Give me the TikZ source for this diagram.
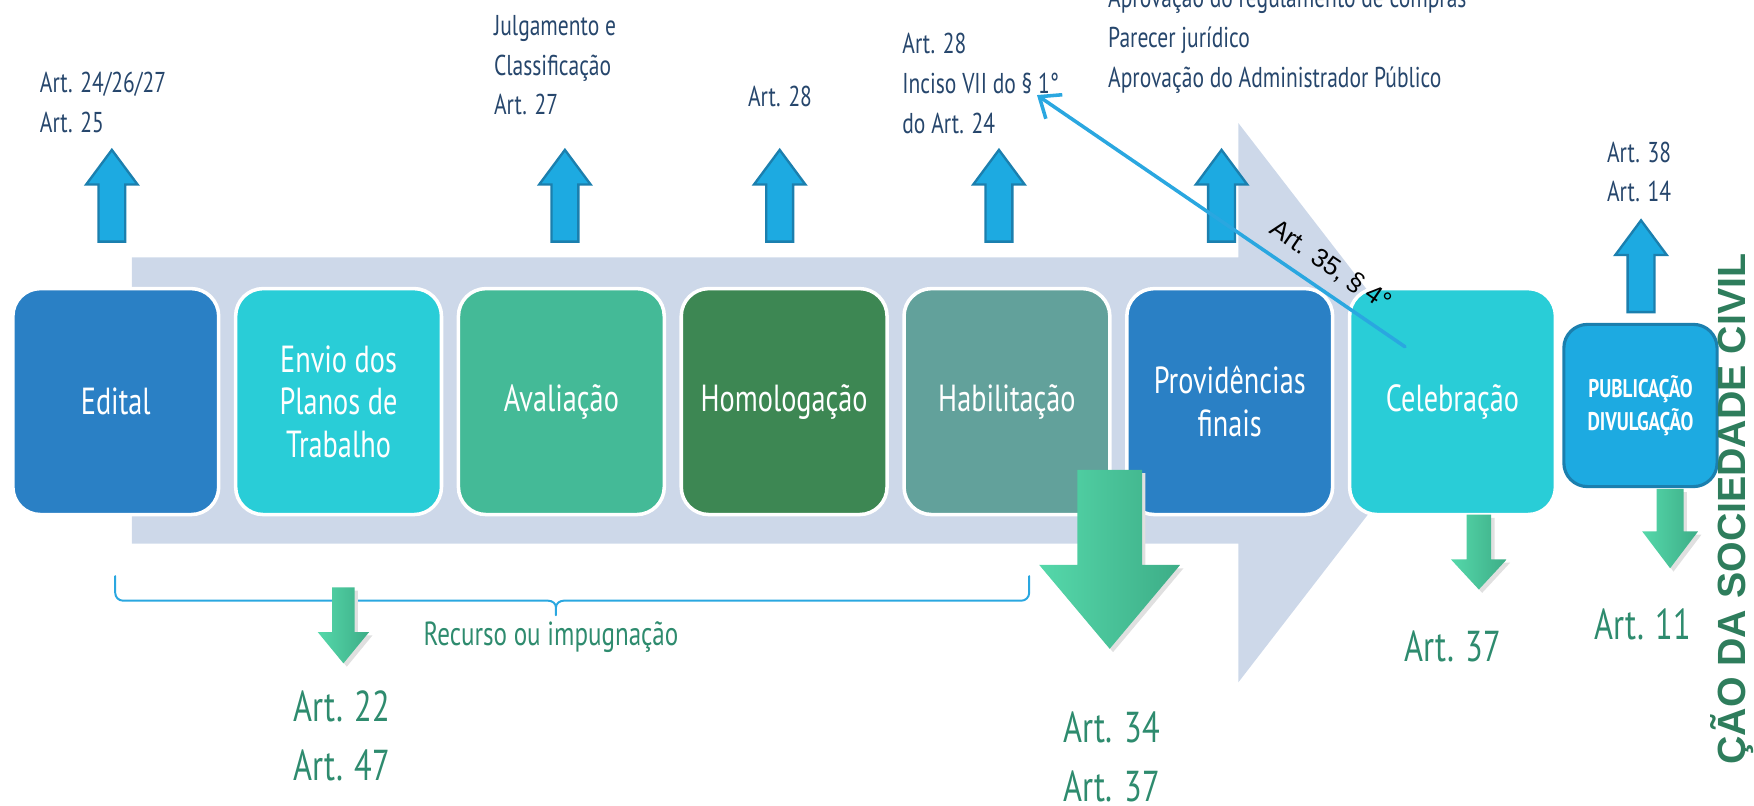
\documentclass[tikz,border=0pt]{standalone}
\usepackage{fontspec}
\setmainfont{PT Sans}[FakeStretch=0.75]
\newfontfamily\labelfont{Liberation Sans}
\usepackage{tikz}
\usetikzlibrary{arrows.meta}
\usetikzlibrary{positioning}

\definecolor{bgarrow}{HTML}{CDD8E9}
\definecolor{stblue}{HTML}{2A80C5}
\definecolor{stcyan}{HTML}{29CDD7}
\definecolor{stmint}{HTML}{44BA97}
\definecolor{stgreen}{HTML}{3D8753}
\definecolor{stteal}{HTML}{62A19B}
\definecolor{pubblue}{HTML}{1DAAE1}
\definecolor{pubedge}{HTML}{1B7FAE}
\definecolor{arttext}{HTML}{26466C}
\definecolor{grtext}{HTML}{2E8B6E}
\definecolor{sidegreen}{HTML}{2E7D5C}
\definecolor{grlight}{HTML}{55D8AA}
\definecolor{grdark}{HTML}{3DAD87}
\definecolor{linkblue}{HTML}{2AA7E0}

\tikzset{
  stage/.style={rounded corners=7pt, draw=white, line width=0.9pt, minimum width=1.84cm, minimum height=2.02cm, inner sep=0pt, text=white, align=center, font=\fontsize{9.6}{10.8}\selectfont},
  upar/.style={fill=pubblue, draw=pubedge, line width=0.6pt, line join=miter},
  downar/.style={left color=grlight, right color=grdark},
  arttop/.style={text=arttext, align=left, inner sep=0pt, font=\fontsize{7.3}{10.1}\selectfont},
  artbot/.style={text=grtext, align=left, inner sep=0pt, font=\fontsize{11}{15}\selectfont},
}

\begin{document}
\begin{tikzpicture}[line cap=round,line join=round,x=1.0cm,y=1.0cm]
% Draw region settings
\useasboundingbox (0,0) rectangle (15.68,-7.20);
\clip (0,0) rectangle (15.68,-7.20);
% Background arrow
\fill[bgarrow] (1.18,-2.30) -- (11.07,-2.30) -- (11.07,-1.10) -- (13.00,-3.60) -- (11.07,-6.10) -- (11.07,-4.86) -- (1.18,-4.86) -- cycle;
% Brace under the first stages
\draw[linkblue, line width=0.5pt] (1.03,-5.15) -- (1.03,-5.30) to[out=-90,in=180] (1.10,-5.37) -- (4.90,-5.37) to[out=0,in=90] (4.97,-5.43) -- (4.97,-5.50)
  (4.97,-5.43) to[out=90,in=180] (5.04,-5.37) -- (9.13,-5.37) to[out=0,in=-90] (9.20,-5.30) -- (9.20,-5.15);
% Stages
\node[stage, fill=stblue] (edital) at (1.035,-3.59) {Edital};
\node[stage, fill=stcyan, right=0.12cm of edital] (envio) {Envio dos\\Planos de\\Trabalho};
\node[stage, fill=stmint, right=0.12cm of envio] (avaliacao) {Avaliação};
\node[stage, fill=stgreen, right=0.12cm of avaliacao] (homologacao) {Homologação};
\node[stage, fill=stteal, right=0.12cm of homologacao] (habilitacao) {Habilitação};
\node[stage, fill=stblue, right=0.12cm of habilitacao] (providencias) {Providências\\finais};
\node[stage, fill=stcyan, right=0.12cm of providencias] (celebracao) {Celebração};
\node[rounded corners=6pt, fill=pubblue, draw=pubedge, line width=0.8pt, minimum width=1.37cm, minimum height=1.45cm, inner sep=0pt, text=white, align=center, font=\bfseries\fontsize{6.5}{8.4}\selectfont] (publicacao) at (14.665,-3.625) {PUBLICAÇÃO\\DIVULGAÇÃO};
% Up arrows
\foreach \x/\y in {1.00/-1.34,5.05/-1.34,6.97/-1.34,8.93/-1.34,10.92/-1.34,14.67/-1.97}
  \filldraw[upar] (\x,\y) -- ++(0.23,-0.31) -- ++(-0.11,0) -- ++(0,-0.51) -- ++(-0.24,0) -- ++(0,0.51) -- ++(-0.11,0) -- cycle;
% Down arrows
\foreach \cx/\t/\b/\p/\s/\h in {3.07/-5.25/-5.65/-5.93/0.10/0.23,9.92/-4.20/-5.05/-5.80/0.29/0.63,13.22/-4.60/-5.00/-5.27/0.11/0.25,14.93/-4.37/-4.75/-5.08/0.12/0.25}{
  \fill[black!12] (\cx-\s+0.03,\t-0.03) -- (\cx+\s+0.03,\t-0.03) -- (\cx+\s+0.03,\b-0.03) -- (\cx+\h+0.03,\b-0.03) -- (\cx+0.03,\p-0.03) -- (\cx-\h+0.03,\b-0.03) -- (\cx-\s+0.03,\b-0.03) -- cycle;
  \shade[downar] (\cx-\s,\t) -- (\cx+\s,\t) -- (\cx+\s,\b) -- (\cx+\h,\b) -- (\cx,\p) -- (\cx-\h,\b) -- (\cx-\s,\b) -- cycle;
}
% Articles above
\node[arttop, anchor=north west] (artedital) at (0.35,-0.64) {Art. 24/26/27\\Art. 25};
\node[arttop, anchor=north west] (artaval) at (4.41,-0.13) {Julgamento e\\Classificação\\Art. 27};
\node[arttop, anchor=north west] (arthomol) at (6.68,-0.76) {Art. 28};
\node[arttop, anchor=north west] (arthabil) at (8.06,-0.29) {Art. 28\\Inciso VII do § 1°\\do Art. 24};
\node[arttop, anchor=north west] (artprov) at (9.90,0.12) {Aprovação do regulamento de compras\\Parecer jurídico\\Aprovação do Administrador Público};
\node[arttop, anchor=north west] (artpubl) at (14.36,-1.26) {Art. 38\\Art. 14};
% Articles below
\node[text=grtext, inner sep=0pt, anchor=west, font=\fontsize{8.5}{10}\selectfont] (recurso) at (3.78,-5.70) {Recurso ou impugnação};
\node[artbot, anchor=north west] (artenvio) at (2.62,-6.17) {Art. 22\\Art. 47};
\node[artbot, anchor=north west] (artfinais) at (9.50,-6.36) {Art. 34\\Art. 37};
\node[artbot, anchor=west] (artceleb) at (12.55,-5.78) {Art. 37};
\node[artbot, anchor=west] (artdivul) at (14.25,-5.58) {Art. 11};
% Side title
\node[rotate=90, anchor=east, inner sep=0pt, text=sidegreen, font=\labelfont\bfseries\fontsize{10}{12}\selectfont] (orgsoc) at (15.48,-2.26) {ÇÃO DA SOCIEDADE CIVIL};
% Link to Art. 28
\coordinate (lstart) at (12.56,-3.10);
\coordinate (lend) at (9.27,-0.85);
\draw[linkblue, line width=0.9pt, -{Straight Barb[length=1.6mm,width=2.6mm]}] (lstart) -- node[pos=0.24, sloped, above=2pt, text=black, inner sep=1pt, font=\labelfont\fontsize{6.6}{8}\selectfont] (art35) {Art. 35, § 4°} (lend);
\end{tikzpicture}
\end{document}
